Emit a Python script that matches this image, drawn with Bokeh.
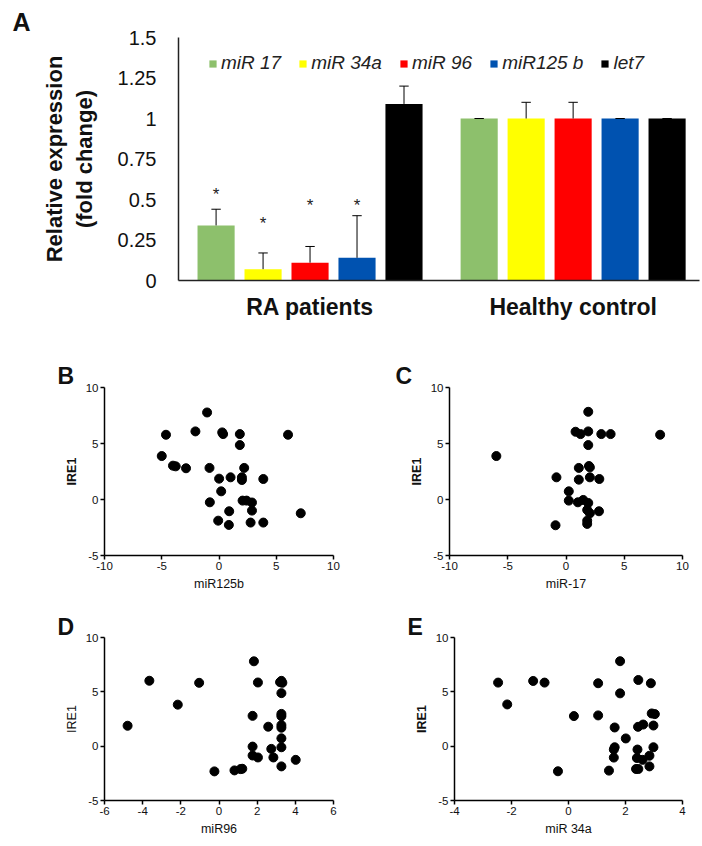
from bokeh.plotting import figure
from bokeh.models import Range1d, FixedTicker, Legend, LegendItem
from bokeh.layouts import column, row
from bokeh.embed import file_html
from bokeh.resources import INLINE
from bokeh.core.properties import value

FONT = "Liberation Sans"

# ---------------- Panel A data ----------------
groups = ["RA patients", "Healthy control"]
series = ["miR 17", "miR 34a", "miR 96", "miR125 b", "let7"]
colors = ["#8DC06C", "#FFFF00", "#FF0000", "#0052B0", "#000000"]
ra_values = [0.34, 0.07, 0.11, 0.14, 1.09]
ra_err_top = [0.44, 0.17, 0.21, 0.40, 1.20]
hc_values = [1.0, 1.0, 1.0, 1.0, 1.0]
hc_err_top = [1.0, 1.10, 1.10, 1.0, 1.0]
star_series = [0, 1, 2, 3]
star_y = [0.53, 0.35, 0.46, 0.46]
a_ticks = [0, 0.25, 0.5, 0.75, 1, 1.25, 1.5]
a_tick_labels = ["0", "0.25", "0.5", "0.75", "1", "1.25", "1.5"]

# ---------------- Scatter data ----------------
ire1_ticks = [-5, 0, 5, 10]
b_ticks = [-10, -5, 0, 5, 10]
c_ticks = [-10, -5, 0, 5, 10]
d_ticks = [-6, -4, -2, 0, 2, 4, 6]
e_ticks = [-4, -2, 0, 2, 4]

b_x = [-1.04, -4.63, -2.06, 0.28, 0.36, 1.82, 6.03, 1.82, -5.0, -4.02, -3.78, -2.88, -0.83, 2.2,
       0.01, 1.01, 2.0, 2.0, 3.87, 0.19, -0.80, 2.06, 2.41, 2.88, 2.88, 0.89, 7.14, -0.07, 0.86, 2.76, 3.87]
b_y = [7.77, 5.78, 6.08, 5.99, 5.84, 5.84, 5.78, 4.86, 3.88, 3.02, 2.96, 2.79, 2.82, 2.82,
       1.86, 1.98, 1.98, 1.74, 1.83, 0.73, -0.25, -0.10, -0.10, -0.27, -0.99, -1.05, -1.23, -1.89, -2.27, -2.06, -2.06]

c_x = [1.91, 0.82, 1.25, 1.91, 3.03, 3.83, 8.08, 1.91, -5.98, 1.10, 1.97, 2.05, -0.82, 1.10,
       2.05, 2.86, 0.24, 0.24, 1.48, 1.02, 1.91, 1.82, 2.05, 2.83, 1.82, 1.82, -0.90]
c_y = [7.83, 6.05, 5.84, 6.08, 5.84, 5.84, 5.78, 4.86, 3.88, 2.82, 2.99, 2.87, 1.98, 1.77,
       1.98, 1.83, 0.73, -0.10, -0.04, -0.25, -0.31, -0.93, -1.23, -1.05, -1.89, -2.18, -2.30]

d_x = [1.83, -3.65, -1.04, 2.04, 3.20, 3.27, 3.32, -2.16, 3.27, -4.79, 1.76, 3.27, 3.27, 2.58,
       3.27, 3.27, 3.27, 1.76, 2.74, 3.27, 1.76, 2.04, 2.85, 4.02, 3.27, -0.24, 0.81, 1.13, 1.22]
d_y = [7.81, 6.02, 5.83, 5.86, 5.89, 6.01, 5.83, 3.82, 4.88, 1.88, 2.79, 2.97, 2.76, 1.79,
       1.94, 1.70, 0.72, -0.04, -0.25, -0.10, -0.86, -1.04, -1.04, -1.26, -1.86, -2.32, -2.23, -2.11, -2.08]

e_x = [1.81, -2.47, -1.24, -0.84, 1.04, 2.45, 2.89, -2.15, 1.81, 0.19, 1.04, 2.92, 3.03, 1.62,
       2.44, 2.62, 2.98, 2.01, 1.62, 1.59, 2.98, 2.42, 1.59, 2.40, 2.60, 2.84, 1.42, -0.37, 2.37, 2.45, 2.84]
e_y = [7.82, 5.85, 6.00, 5.85, 5.79, 6.09, 5.79, 3.84, 4.86, 2.77, 2.83, 3.01, 2.95, 1.72,
       1.78, 1.99, 1.90, 0.71, -0.10, -0.31, -0.10, -0.31, -1.05, -1.09, -1.26, -0.88, -2.25, -2.31, -2.10, -2.10, -1.86]

# ---------------- Panel A ----------------
GROUP_STEP = 5.6
BAR_W = 0.79
CAP = 0.1

pA = figure(width=700, height=340, x_range=Range1d(-0.80, 10.29), y_range=Range1d(0, 1.5),
            output_backend="svg", toolbar_location=None, title="A",
            min_border_left=178, min_border_right=1, min_border_top=37, min_border_bottom=60)
pA.grid.visible = False
pA.outline_line_color = None
pA.title.align = "left"
pA.title.offset = -166
pA.title.standoff = 4
pA.title.text_font = FONT
pA.title.text_font_style = "bold"
pA.title.text_font_size = "25px"
pA.title.text_color = "#111111"

items = []
for i, name in enumerate(series):
    xs = [g * GROUP_STEP + i for g in range(len(groups))]
    tops = [ra_values[i], hc_values[i]]
    errs = [ra_err_top[i], hc_err_top[i]]
    r = pA.vbar(x=xs, top=tops, bottom=0, width=BAR_W, fill_color=colors[i], line_color=None)
    pA.segment(x0=xs, y0=tops, x1=xs, y1=errs, line_color="black", line_width=1)
    pA.segment(x0=[x - CAP for x in xs], y0=errs, x1=[x + CAP for x in xs], y1=errs,
               line_color="black", line_width=1)
    items.append(LegendItem(label=name, renderers=[r]))

pA.text(x=star_series, y=star_y, text=["*"] * len(star_series), text_font=value(FONT),
        text_font_size="17px", text_align="center", text_baseline="middle", text_color="#222222")

legend = Legend(items=items, orientation="horizontal", location=(30, 206),
                label_text_font=FONT, label_text_font_style="italic", label_text_font_size="19px",
                label_text_color="#222222",
                glyph_width=9, glyph_height=9, label_standoff=4, spacing=17, padding=0, margin=0,
                border_line_color=None, background_fill_alpha=0)
pA.add_layout(legend, "center")

ay = pA.yaxis[0]
ay.ticker = FixedTicker(ticks=a_ticks)
ay.major_label_overrides = {t: l for t, l in zip(a_ticks, a_tick_labels)}
ay.major_tick_line_color = None
ay.minor_tick_line_color = None
ay.major_label_text_font = FONT
ay.major_label_text_font_size = "20px"
ay.major_label_text_color = "#111111"
ay.major_label_standoff = 16
ay.axis_line_color = "#222222"
ay.axis_line_width = 1.5
ay.axis_label = "Relative expression\n(fold change)"
ay.axis_label_text_font = FONT
ay.axis_label_text_font_style = "bold"
ay.axis_label_text_font_size = "22px"
ay.axis_label_text_color = "#111111"
ay.axis_label_standoff = 18

ax = pA.xaxis[0]
centers = [g * GROUP_STEP + (len(series) - 1) / 2 for g in range(len(groups))]
ax.ticker = FixedTicker(ticks=centers)
ax.major_label_overrides = {c: gname for c, gname in zip(centers, groups)}
ax.major_tick_line_color = None
ax.minor_tick_line_color = None
ax.major_label_text_font = FONT
ax.major_label_text_font_style = "bold"
ax.major_label_text_font_size = "23px"
ax.major_label_text_color = "#111111"
ax.major_label_standoff = 7
ax.axis_line_color = "#222222"
ax.axis_line_width = 1.5


def scatter_panel(xs, ys, xr, xticks, xlabel, letter, width, height, left, right, top, bottom,
                  letter_offset, letter_standoff, ylabel_style="bold"):
    p = figure(width=width, height=height, x_range=Range1d(*xr), y_range=Range1d(-5, 10),
               output_backend="svg", toolbar_location=None, title=letter,
               min_border_left=left, min_border_right=right, min_border_top=top, min_border_bottom=bottom)
    p.grid.visible = False
    p.outline_line_color = None
    p.title.align = "left"
    p.title.offset = letter_offset
    p.title.standoff = letter_standoff
    p.title.text_font = FONT
    p.title.text_font_style = "bold"
    p.title.text_font_size = "23px"
    p.title.text_color = "#111111"
    p.scatter(xs, ys, size=9, fill_color="black", line_color="black")
    for axis, ticks in ((p.xaxis[0], xticks), (p.yaxis[0], ire1_ticks)):
        axis.ticker = FixedTicker(ticks=ticks)
        axis.major_label_overrides = {t: str(t) for t in ticks}
        axis.minor_tick_line_color = None
        axis.major_tick_in = 0
        axis.major_tick_out = 4
        axis.major_tick_line_width = 1.5
        axis.axis_line_width = 1.5
        axis.axis_line_color = "black"
        axis.major_tick_line_color = "black"
        axis.major_label_text_font = FONT
        axis.major_label_text_font_size = "11.5px"
        axis.major_label_text_color = "#111111"
        axis.major_label_standoff = 2
        axis.axis_label_text_font = FONT
        axis.axis_label_text_font_size = "12.5px"
        axis.axis_label_text_color = "#111111"
        axis.axis_label_text_font_style = "normal"
    p.xaxis[0].axis_label = xlabel
    p.xaxis[0].axis_label_standoff = 4
    p.yaxis[0].axis_label = "IRE1"
    p.yaxis[0].axis_label_text_font_style = ylabel_style
    p.yaxis[0].axis_label_standoff = 4
    return p


pB = scatter_panel(b_x, b_y, (-10, 10), b_ticks, "miR125b", "B",
                   360, 260, 104, 27, 47, 45, -47, -3)
pC = scatter_panel(c_x, c_y, (-10, 10), c_ticks, "miR-17", "C",
                   340, 260, 89, 18, 47, 45, -54, -3)
pD = scatter_panel(d_x, d_y, (-6, 6), d_ticks, "miR96", "D",
                   360, 240, 104, 27, 35, 40, -47, -5, ylabel_style="normal")
pE = scatter_panel(e_x, e_y, (-4, 4), e_ticks, "miR 34a", "E",
                   340, 240, 94, 18, 37, 36, -47, -5)

layout = column(pA, row(pB, pC), row(pD, pE))
open("out.html", "w").write(file_html(layout, INLINE))
